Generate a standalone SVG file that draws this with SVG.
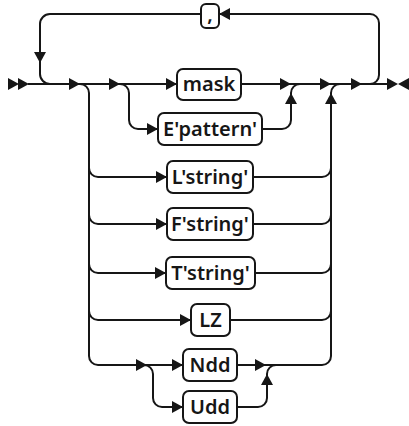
<svg xmlns="http://www.w3.org/2000/svg" width="409" height="426" viewBox="0 0 409 426">
<style>
.ln{fill:none;stroke:#161616;stroke-width:2}
.bx{fill:#fff;stroke:#161616;stroke-width:2}
.tx{font-family:"Noto Sans","Open Sans","Liberation Sans",sans-serif;font-size:20px;font-weight:600;fill:#161616;text-anchor:middle;dominant-baseline:central}
.ah{fill:#161616}
</style>
<defs>
<path id="ar" class="ah" d="M0,0 L-11,-6 L-11,6 Z"/>
</defs>
<rect width="409" height="426" fill="#fff"/>
<g id="connectors">
<path class="ln" d="M28,84 H392"/>
<path class="ln" d="M362,84 H370 A9,9 0 0 0 379,75 V23 A9,9 0 0 0 370,14 H219"/>
<path class="ln" d="M201,14 H50 A10,10 0 0 0 40,24 V74 A10,10 0 0 0 50,84"/>
<path class="ln" d="M80,84 A9,9 0 0 1 89,93 V356 A9,9 0 0 0 98,365 H183"/>
<path class="ln" d="M89,168 A9,9 0 0 0 98,177 H167"/>
<path class="ln" d="M89,215 A9,9 0 0 0 98,224 H167"/>
<path class="ln" d="M89,264 A9,9 0 0 0 98,273 H166"/>
<path class="ln" d="M89,311 A9,9 0 0 0 98,320 H191"/>
<path class="ln" d="M120,84 A9,9 0 0 1 129,93 V120 A9,9 0 0 0 138,129 H158"/>
<path class="ln" d="M262,129 H282 A9,9 0 0 0 291,120 V93 A9,9 0 0 1 300,84"/>
<path class="ln" d="M237,365 H322 A9,9 0 0 0 331,356 V93 A9,9 0 0 1 340,84"/>
<path class="ln" d="M253,177 H322 A9,9 0 0 0 331,168"/>
<path class="ln" d="M253,224 H322 A9,9 0 0 0 331,215"/>
<path class="ln" d="M255,273 H322 A9,9 0 0 0 331,264"/>
<path class="ln" d="M230,320 H322 A9,9 0 0 0 331,311"/>
<path class="ln" d="M144,365 A9,9 0 0 1 153,374 V398 A9,9 0 0 0 162,407 H183"/>
<path class="ln" d="M237,407 H258 A9,9 0 0 0 267,398 V374 A9,9 0 0 1 276,365"/>
<use href="#ar" transform="translate(19,84)"/>
<use href="#ar" transform="translate(29,84)"/>
<use href="#ar" transform="translate(80,84)"/>
<use href="#ar" transform="translate(120,84)"/>
<use href="#ar" transform="translate(177,84)"/>
<use href="#ar" transform="translate(291,84)"/>
<use href="#ar" transform="translate(331,84)"/>
<use href="#ar" transform="translate(362,84)"/>
<use href="#ar" transform="translate(398,84)"/>
<use href="#ar" transform="translate(398,84) rotate(180)"/>
<use href="#ar" transform="translate(40,63) rotate(90)"/>
<use href="#ar" transform="translate(219,14) rotate(180)"/>
<use href="#ar" transform="translate(158,129)"/>
<use href="#ar" transform="translate(167,177)"/>
<use href="#ar" transform="translate(167,224)"/>
<use href="#ar" transform="translate(166,273)"/>
<use href="#ar" transform="translate(191,320)"/>
<use href="#ar" transform="translate(147,365)"/>
<use href="#ar" transform="translate(183,365)"/>
<use href="#ar" transform="translate(183,407)"/>
<use href="#ar" transform="translate(266,365)"/>
<use href="#ar" transform="translate(291,93) rotate(-90)"/>
<use href="#ar" transform="translate(331,93) rotate(-90)"/>
<use href="#ar" transform="translate(267,374) rotate(-90)"/>
</g>
<g id="n-comma"><rect class="bx" x="201" y="4" width="18" height="24" rx="5"/><text class="tx" x="210" y="13">,</text></g>
<g id="n-mask"><rect class="bx" x="177" y="69" width="64" height="31" rx="6"/><text class="tx" x="209" y="83">mask</text></g>
<g id="n-epattern"><rect class="bx" x="158" y="113" width="104" height="32" rx="6"/><text class="tx" x="210" y="128">E'pattern'</text></g>
<g id="n-lstring"><rect class="bx" x="167" y="161" width="86" height="32" rx="6"/><text class="tx" x="210" y="176">L'string'</text></g>
<g id="n-fstring"><rect class="bx" x="167" y="208" width="86" height="32" rx="6"/><text class="tx" x="210" y="223">F'string'</text></g>
<g id="n-tstring"><rect class="bx" x="166" y="257" width="89" height="32" rx="6"/><text class="tx" x="210.5" y="272">T'string'</text></g>
<g id="n-lz"><rect class="bx" x="191" y="304" width="39" height="32" rx="6"/><text class="tx" x="210.5" y="319">LZ</text></g>
<g id="n-ndd"><rect class="bx" x="183" y="349" width="54" height="32" rx="6"/><text class="tx" x="210" y="364">Ndd</text></g>
<g id="n-udd"><rect class="bx" x="183" y="391" width="54" height="32" rx="6"/><text class="tx" x="210" y="406">Udd</text></g>
</svg>
